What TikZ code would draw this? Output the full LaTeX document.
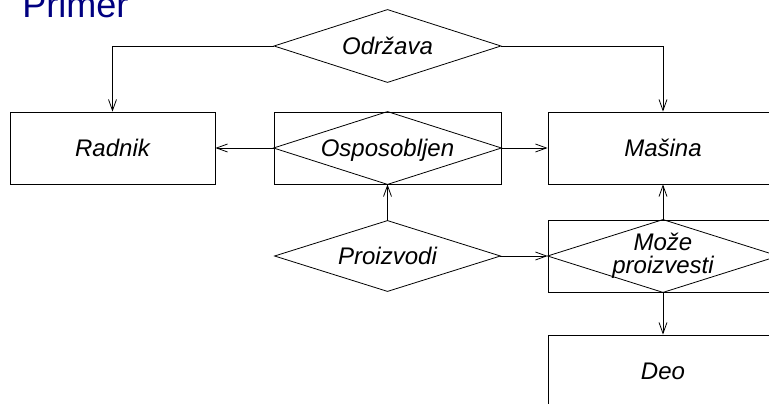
\documentclass[tikz,border=0pt]{standalone}
\usepackage{fontspec}
\setmainfont{Liberation Sans}
\usepackage{xcolor}
\usetikzlibrary{arrows.meta}
\definecolor{titleblue}{RGB}{0,0,128}

\begin{document}
\begin{tikzpicture}[x=1pt, y=-1pt, line width=0.8pt,
        >={Straight Barb[length=11pt,width=8pt]},
        entity/.style={draw, rectangle, minimum height=72pt, inner sep=0pt, align=center, text height=20pt, text depth=3.5pt, font=\fontsize{24}{23}\selectfont\itshape},
        relation/.style={entity, draw=none}]
        % Frame
        \useasboundingbox (0,0) rectangle (769,404);
        \clip (0,0) rectangle (769,404);
        
        % Title
        \node[anchor=base west, inner sep=0pt, text=titleblue, font=\fontsize{36}{40}\selectfont] (title) at (22,18) {Primer};
        
        % Entities
        \node[entity, minimum width=205pt] (radnik) at (112.5,148) {Radnik};
        \node[entity, minimum width=230pt] (masina) at (663,148) {Mašina};
        \node[entity, minimum width=230pt] (deo) at (663,371) {Deo};
        
        % Relations (the boxed ones are aggregations)
        \node[relation, minimum width=226pt] (odrzava) at (387.5,46) {Održava};
        \node[entity, minimum width=227pt] (osposobljen) at (387.5,148) {Osposobljen};
        \node[relation, minimum width=225pt, minimum height=70pt] (proizvodi) at (387.5,256) {Proizvodi};
        \node[entity, minimum width=230pt, text height=, text depth=] (moze) at (663,256) {Može\\proizvesti};
        
        % Diamonds
        \foreach \n in {odrzava, osposobljen, proizvodi, moze}
            \draw (\n.west) -- (\n.north) -- (\n.east) -- (\n.south) -- cycle;
        
        % Connectors
        \draw[->] (odrzava.west) -| (radnik.north);
        \draw[->] (odrzava.east) -| (masina.north);
        \draw[->] (osposobljen.west) -- (radnik.east);
        \draw[->] (osposobljen.east) -- (masina.west);
        \draw[->] (proizvodi.north) -- (osposobljen.south);
        \draw[->] (proizvodi.east) -- (moze.west);
        \draw[->] (moze.north) -- (masina.south);
        \draw[->] (moze.south) -- (deo.north);
    \end{tikzpicture}
\end{document}
